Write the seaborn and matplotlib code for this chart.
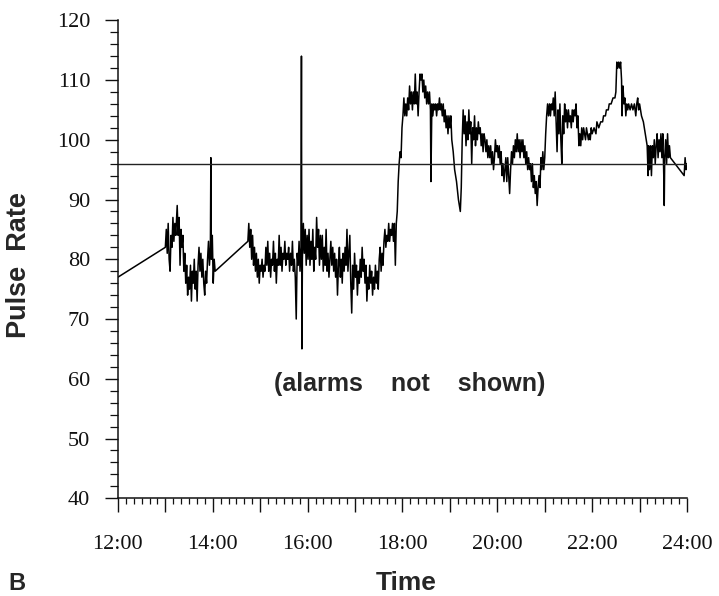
import matplotlib
matplotlib.use("Agg")
import matplotlib.pyplot as plt
import matplotlib.ticker as mticker
import seaborn as sns
import pandas as pd

# ---------------- data (hours of day, pulse rate) ----------------
seg1_t = [12.00, 13.00]
seg1_v = [77, 82]

seg2_t = [13.02, 13.04, 13.06, 13.08, 13.10, 13.12, 13.14, 13.16, 13.18, 13.20,
          13.22, 13.25, 13.27, 13.29, 13.31, 13.33, 13.35, 13.37, 13.39, 13.41,
          13.43, 13.45, 13.47, 13.49, 13.51, 13.53, 13.55, 13.57, 13.59, 13.61,
          13.63, 13.65, 13.67, 13.69, 13.71, 13.73, 13.75, 13.77, 13.79, 13.81,
          13.83, 13.85, 13.87, 13.89, 13.91, 13.93, 13.95, 13.96, 13.97, 13.99,
          14.01, 14.03, 14.05]
seg2_v = [85, 81, 86, 80, 78, 84, 82, 87, 83, 86,
          84, 89, 84, 87, 79, 85, 82, 84, 78, 81,
          76, 79, 74, 77, 75, 79, 73, 78, 76, 80,
          75, 78, 73, 79, 82, 78, 81, 77, 80, 76,
          74, 78, 76, 80, 83, 79, 82, 97, 80, 84,
          76, 80, 78]

seg3_t = [14.74, 14.76, 14.78, 14.80, 14.82, 14.84, 14.86, 14.88, 14.90, 14.92,
          14.94, 14.96, 14.98, 15.00, 15.02, 15.04, 15.06, 15.08, 15.10, 15.12,
          15.14, 15.16, 15.18, 15.20, 15.22, 15.24, 15.26, 15.28, 15.30, 15.32,
          15.34, 15.36, 15.38, 15.40, 15.42, 15.44, 15.46, 15.48, 15.50, 15.52,
          15.54, 15.56, 15.58, 15.60, 15.62, 15.64, 15.66, 15.68, 15.70, 15.72,
          15.74, 15.76, 15.78, 15.80, 15.82, 15.84, 15.86, 15.87, 15.88, 15.89,
          15.91, 15.93, 15.95, 15.97, 15.99, 16.01, 16.03, 16.05, 16.07, 16.09,
          16.11, 16.13, 16.15, 16.17, 16.19, 16.21, 16.23, 16.25, 16.27, 16.29,
          16.31, 16.33, 16.35, 16.37, 16.39, 16.41, 16.43, 16.45, 16.47]
seg3_v = [83, 86, 82, 85, 80, 84, 79, 82, 78, 81,
          77, 80, 76, 79, 78, 80, 77, 79, 78, 82,
          79, 83, 78, 81, 77, 80, 79, 83, 78, 81,
          76, 80, 79, 84, 79, 82, 78, 81, 80, 83,
          79, 81, 80, 82, 78, 81, 79, 83, 78, 80,
          77, 70, 81, 79, 83, 78, 82, 114, 65, 80,
          86, 81, 85, 79, 84, 80, 85, 79, 83, 80,
          85, 78, 82, 80, 87, 82, 85, 79, 84, 80,
          84, 78, 82, 79, 85, 78, 81, 77, 80]

seg4_t = [16.49, 16.51, 16.53, 16.55, 16.57, 16.59, 16.61, 16.63, 16.65, 16.67,
          16.69, 16.71, 16.73, 16.75, 16.77, 16.79, 16.81, 16.83, 16.85, 16.87,
          16.89, 16.91, 16.93, 16.95, 16.97, 16.99, 17.01, 17.03, 17.05, 17.07,
          17.09, 17.11, 17.13, 17.15, 17.17, 17.19, 17.21, 17.23, 17.25, 17.27,
          17.29, 17.31, 17.33, 17.35, 17.37, 17.39, 17.41, 17.43, 17.45, 17.47,
          17.49, 17.51, 17.53, 17.55, 17.57, 17.59, 17.61, 17.63, 17.65, 17.67,
          17.69, 17.71, 17.73, 17.75, 17.77, 17.79, 17.81, 17.83, 17.85, 17.87,
          17.89, 17.91, 17.93, 17.95, 17.97, 17.99]
seg4_v = [83, 79, 82, 78, 81, 77, 80, 74, 79, 82,
          77, 80, 76, 81, 78, 82, 79, 85, 78, 81,
          84, 76, 71, 79, 75, 81, 77, 79, 74, 78,
          76, 80, 77, 82, 78, 80, 76, 79, 73, 77,
          75, 79, 76, 78, 74, 77, 75, 79, 76, 78,
          75, 80, 82, 78, 81, 79, 83, 85, 82, 84,
          83, 86, 83, 85, 84, 86, 83, 86, 79, 86,
          88, 93, 96, 98, 97, 102]

seg5_t = [18.01, 18.03, 18.05, 18.07, 18.09, 18.11, 18.13, 18.15, 18.17, 18.19,
          18.21, 18.23, 18.25, 18.27, 18.29, 18.31, 18.33, 18.35, 18.37, 18.39,
          18.41, 18.43, 18.45, 18.47, 18.49, 18.51, 18.53, 18.55, 18.57, 18.59,
          18.60, 18.62, 18.64, 18.66, 18.68, 18.70, 18.72, 18.74, 18.76, 18.78,
          18.80, 18.82, 18.84, 18.86, 18.88, 18.90, 18.92, 18.94, 18.96, 18.98,
          19.00, 19.02, 19.04, 19.07, 19.10, 19.14, 19.18, 19.22, 19.24, 19.26,
          19.28, 19.30, 19.32, 19.34, 19.36, 19.38, 19.40, 19.42, 19.44, 19.46,
          19.48, 19.50, 19.52, 19.54, 19.56, 19.58, 19.60, 19.62, 19.64, 19.66,
          19.68, 19.70, 19.72, 19.74, 19.76, 19.78, 19.80, 19.82, 19.84, 19.86,
          19.88, 19.90, 19.92, 19.94, 19.96, 19.98]
seg5_v = [104, 107, 104, 106, 104, 107, 105, 109, 106, 108,
          105, 108, 106, 111, 106, 108, 104, 108, 111, 110,
          111, 108, 110, 107, 109, 106, 108, 106, 108, 105,
          93, 106, 104, 106, 105, 106, 104, 106, 105, 107,
          105, 106, 104, 106, 103, 105, 102, 104, 101, 104,
          102, 104, 100, 98, 95, 93, 90, 88, 92, 100,
          105, 101, 104, 99, 103, 100, 105, 101, 103, 96,
          102, 100, 104, 99, 102, 100, 103, 101, 102, 99,
          101, 98, 101, 100, 98, 100, 97, 99, 97, 99,
          96, 98, 95, 97, 100, 98]

seg6_t = [20.00, 20.02, 20.04, 20.06, 20.08, 20.10, 20.12, 20.14, 20.16, 20.18,
          20.20, 20.22, 20.24, 20.26, 20.28, 20.30, 20.32, 20.34, 20.36, 20.38,
          20.40, 20.42, 20.44, 20.46, 20.48, 20.50, 20.52, 20.54, 20.56, 20.58,
          20.60, 20.62, 20.64, 20.66, 20.68, 20.70, 20.72, 20.74, 20.76, 20.78,
          20.80, 20.82, 20.84, 20.86, 20.88, 20.90, 20.92, 20.94, 20.96, 20.98,
          21.00, 21.02, 21.04, 21.06, 21.08, 21.10, 21.12, 21.14, 21.16, 21.18,
          21.20, 21.22, 21.24, 21.26, 21.28, 21.30, 21.32, 21.34, 21.36, 21.38,
          21.40, 21.42, 21.44, 21.46, 21.48, 21.50, 21.52, 21.54, 21.56, 21.58,
          21.60, 21.62, 21.64, 21.66, 21.68, 21.70, 21.72, 21.74, 21.76, 21.78,
          21.80, 21.82, 21.84, 21.86, 21.88, 21.90, 21.92, 21.94, 21.96, 21.98]
seg6_v = [99, 97, 99, 96, 98, 94, 96, 93, 95, 97,
          93, 97, 94, 91, 95, 98, 96, 99, 97, 100,
          98, 101, 98, 100, 97, 100, 98, 100, 97, 99,
          96, 98, 95, 97, 95, 96, 93, 96, 92, 94,
          91, 93, 89, 92, 94, 92, 97, 95, 98, 95,
          97, 101, 104, 106, 104, 106, 104, 106, 105, 107,
          104, 108, 103, 98, 105, 101, 106, 100, 96, 104,
          101, 106, 103, 105, 102, 105, 103, 104, 102, 105,
          103, 105, 104, 106, 102, 104, 99, 101, 99, 102,
          100, 102, 101, 100, 102, 101, 100, 101, 100, 102]

seg7_t = [22.00, 22.04, 22.08, 22.10, 22.14, 22.18, 22.22, 22.24, 22.28, 22.30,
          22.34, 22.36, 22.40, 22.44, 22.48, 22.50, 22.52, 22.54, 22.56, 22.58,
          22.60, 22.62, 22.63, 22.65, 22.67, 22.69, 22.71, 22.73, 22.75, 22.77,
          22.80, 22.83, 22.86, 22.89, 22.92, 22.94, 22.96, 22.98, 23.00, 23.04,
          23.08, 23.12, 23.16, 23.18, 23.19, 23.21, 23.23, 23.25, 23.27, 23.29,
          23.31, 23.33, 23.35, 23.37, 23.39, 23.41, 23.43, 23.45, 23.47, 23.49,
          23.51, 23.52, 23.53, 23.55, 23.57, 23.59, 23.61, 23.63, 23.65, 23.94,
          23.96, 23.98, 24.00]
seg7_v = [101, 102, 101, 103, 102, 103, 103, 104, 104, 105,
          105, 106, 106, 107, 107, 108, 113, 112, 113, 112,
          113, 110, 104, 109, 106, 107, 104, 106, 105, 106,
          105, 106, 105, 106, 104, 106, 107, 105, 106, 104,
          103, 101, 99, 94, 99, 95, 99, 94, 99, 97,
          100, 96, 99, 101, 97, 100, 98, 101, 97, 101,
          94, 89, 97, 100, 96, 101, 97, 99, 97, 94,
          97, 95, 96]

threshold = 96

y_ticks = [40, 50, 60, 70, 80, 90, 100, 110, 120]
x_ticks = [12, 13, 14, 15, 16, 17, 18, 19, 20, 21, 22, 23, 24]
x_tick_labels = ["12:00", "", "14:00", "", "16:00", "", "18:00", "",
                 "20:00", "", "22:00", "", "24:00"]

times = seg1_t + seg2_t + seg3_t + seg4_t + seg5_t + seg6_t + seg7_t
pulses = seg1_v + seg2_v + seg3_v + seg4_v + seg5_v + seg6_v + seg7_v
df = pd.DataFrame({"Time": times, "Pulse": pulses})

# ---------------- drawing ----------------
sns.set_style("ticks")
plt.rcParams["font.family"] = ["Liberation Serif", "DejaVu Serif"]

fig = plt.figure(figsize=(7.19, 5.96), dpi=100)
ax = fig.add_axes([0.164, 0.164, 0.7915, 0.802])

sns.lineplot(data=df, x="Time", y="Pulse", sort=False, estimator=None,
             color="black", linewidth=1.1, ax=ax)
ax.axhline(threshold, color="#222222", linewidth=1.0)

ax.set_xlim(12, 24)
ax.set_ylim(40, 120)
ax.xaxis.set_major_locator(mticker.FixedLocator(x_ticks))
ax.xaxis.set_major_formatter(mticker.FixedFormatter(x_tick_labels))
ax.xaxis.set_minor_locator(mticker.MultipleLocator(1 / 6))
ax.yaxis.set_major_locator(mticker.FixedLocator(y_ticks))
ax.yaxis.set_minor_locator(mticker.MultipleLocator(2))

for s in ["top", "right"]:
    ax.spines[s].set_visible(False)
for s in ["left", "bottom"]:
    ax.spines[s].set_linewidth(1.1)
    ax.spines[s].set_color("#111111")

ax.tick_params(axis="both", which="major", direction="out", width=1.0,
               color="#111111", labelsize=16, labelcolor="#111111")
ax.tick_params(axis="y", which="major", length=9.5, pad=10.5)
ax.tick_params(axis="y", which="minor", length=5.5, width=0.9, color="#111111")
ax.tick_params(axis="x", which="major", length=10, pad=16.5)
ax.tick_params(axis="x", which="minor", length=4.5, width=0.9, color="#111111")
for lab in ax.get_xticklabels() + ax.get_yticklabels():
    lab.set_fontfamily("Liberation Serif")

ax.set_xlabel("")
ax.set_ylabel("")

sans = ["Liberation Sans", "DejaVu Sans"]
fig.text(32 / 719, 1 - 265 / 596, "Pulse  Rate", rotation=90, ha="right",
         va="center", fontsize=19.5, fontweight="bold", family=sans)
fig.text(406 / 719, 1 - 590 / 596, "Time", ha="center", va="baseline",
         fontsize=19, fontweight="bold", family=sans)
fig.text(8 / 719, 1 - 590 / 596, "B", ha="left", va="baseline",
         fontsize=17, fontweight="bold", family=sans)
ax.text(18.16, 59.2, "(alarms    not    shown)", ha="center", va="center",
        fontsize=18, fontweight="bold", family=sans)

fig.savefig("out.png", dpi=100)
